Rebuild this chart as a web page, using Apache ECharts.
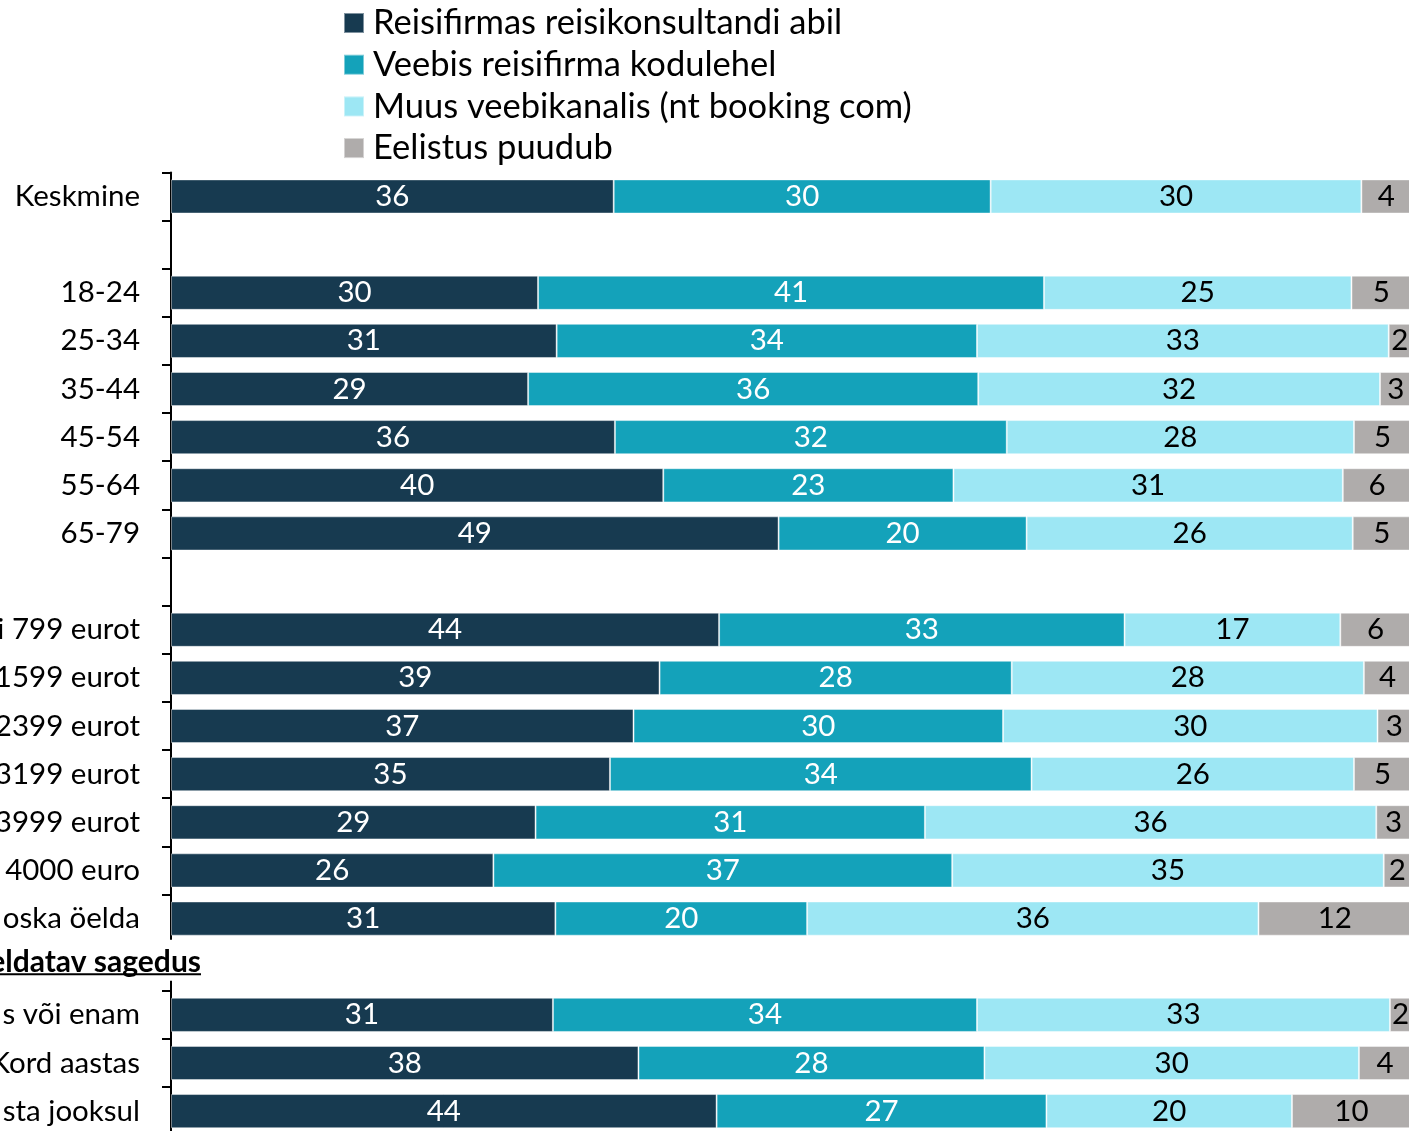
<!DOCTYPE html>
<html><head><meta charset="utf-8">
<script src="https://cdn.jsdelivr.net/npm/echarts@6.0.0/dist/echarts.min.js"></script>
<style>html,body{margin:0;padding:0;background:#fff;overflow:hidden}#c{width:1409px;height:1131px}</style>
</head><body><div id="c"></div>
<script>
// ---- data (labels show rounded values) ----
const seriesNames = ['Reisifirmas reisikonsultandi abil','Veebis reisifirma kodulehel','Muus veebikanalis (nt booking com)','Eelistus puudub'];
const headingText = 'eldatav sagedus';
const categories = ['Keskmine','','18-24','25-34','35-44','45-54','55-64','65-79',' ',
  'i 799 eurot','1599 eurot','2399 eurot','3199 eurot','3999 eurot','4000 euro','oska öelda',
  headingText,'s või enam','Kord aastas','sta jooksul'];
const consultant = [35.7,null,29.6,31.1,28.8,35.8,39.7,49.0,null,44.2,39.4,37.3,35.4,29.4,26.0,31.0,null,30.8,37.7,44.0];
const webAgency  = [30.4,null,40.8,33.9,36.3,31.6,23.4,20.0,null,32.7,28.4,29.8,34.0,31.4,37.0,20.3,null,34.2,27.9,26.6];
const otherWeb   = [29.9,null,24.8,33.2,32.4,28.0,31.4,26.3,null,17.4,28.4,30.2,26.0,36.4,34.8,36.4,null,33.3,30.2,19.8];
const noPref     = [4.0,null,4.8,1.8,2.6,4.6,5.6,4.7,null,5.7,3.8,2.7,4.6,2.8,2.2,12.3,null,1.7,4.2,9.6];
const colors = ['#173A50','#14A2BA','#9DE7F4','#AFACAB'];
const labelColors = ['#ffffff','#ffffff','#000000','#000000'];

const FONT = 'Lato';
const chart = echarts.init(document.getElementById('c'), null, {renderer:'canvas'});
const dataSets = [consultant, webAgency, otherWeb, noPref];
const series = dataSets.map((d,i)=>({
  name: seriesNames[i], type:'bar', stack:'total', data:d,
  barCategoryGap:'29%',
  itemStyle:{color:colors[i], borderColor:'rgba(255,255,255,0.45)', borderWidth:1},
  label:{show:true, position:'inside', color:labelColors[i], fontFamily:FONT, fontSize:29.5,
    formatter:p=> p.value==null ? '' : String(Math.round(p.value))},
  emphasis:{disabled:true}
}));
const option = {
  animation:false,
  backgroundColor:'#ffffff',
  color:colors,
  legend:{orient:'vertical', left:343, top:5, padding:0, itemWidth:20, itemHeight:20, itemGap:5.7,
    icon:'rect', data:seriesNames,
    textStyle:{fontFamily:FONT, fontSize:34.5, color:'#000', lineHeight:36, padding:[0,0,0,4]}},
  grid:{left:171, top:172.4, width:1240, height:962.8, containLabel:false, outerBoundsMode:'none'},
  xAxis:{type:'value', min:0, max:100, show:false},
  yAxis:{type:'category', data:categories, inverse:true,
    axisLine:{show:true, lineStyle:{color:'#000', width:2}},
    axisTick:{show:true, interval:0, length:9, lineStyle:{color:'#000', width:2}},
    axisLabel:{interval:0, margin:31, fontFamily:FONT, fontSize:29.5, color:'#000',
      formatter:v=> v===headingText ? '' : v}},
  series
};
chart.setOption(option);
const idx = categories.indexOf(headingText);
const yc = chart.convertToPixel({yAxisIndex:0}, idx);
chart.setOption({graphic:[
  {type:'rect', z:100, shape:{x:0, y:yc-27, width:206, height:41}, style:{fill:'#fff'}},
  {type:'text', z:101, style:{text:headingText, x:201, y:yc-4, align:'right', verticalAlign:'middle',
    font:'bold 30px '+FONT, fill:'#000'}},
  {type:'line', z:101, shape:{x1:0, y1:yc+7.5, x2:201, y2:yc+7.5}, style:{stroke:'#000', lineWidth:2}}
]});
</script></body></html>
